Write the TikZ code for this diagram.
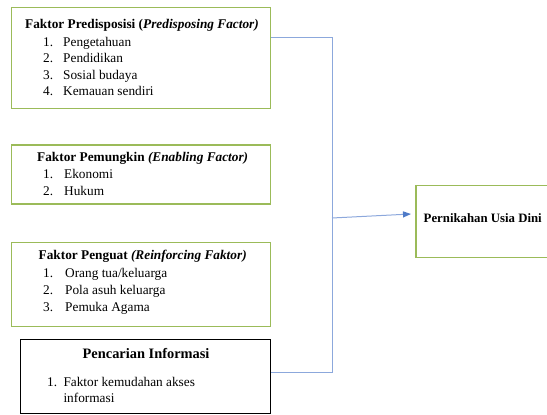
\documentclass[tikz,border=0pt]{standalone}
\usepackage{fontspec}
\setmainfont{Liberation Serif}
\usetikzlibrary{arrows.meta}
\definecolor{boxgreen}{HTML}{9BBB59}
\definecolor{linkblue}{HTML}{8CA8DC}
\definecolor{tipblue}{HTML}{4F7BC8}
\tikzset{
  gbox/.style={draw=boxgreen, line width=1.3pt, anchor=north west, inner sep=0pt, outer sep=0pt},
  kbox/.style={draw=black, line width=1.2pt, anchor=north west, inner sep=0pt, outer sep=0pt},
  txt/.style={anchor=base west, inner sep=0pt, font=\fontsize{13.3}{15}\selectfont},
  bigtxt/.style={anchor=base west, inner sep=0pt, font=\fontsize{14.4}{17}\selectfont},
  midtxt/.style={anchor=base west, inner sep=0pt, font=\fontsize{13.3}{16}\selectfont},
  conn/.style={draw=linkblue, line width=1pt},
  arr/.style={draw=linkblue, line width=1pt, -{Triangle[length=8pt,width=6pt,color=tipblue]}}
}
\begin{document}
\begin{tikzpicture}[x=1pt,y=-1pt]
\useasboundingbox (0,0) rectangle (547,415);
% boxes
\node[gbox, minimum width=259pt, minimum height=101pt] (b1) at (11.7,7.3) {};
\node[gbox, minimum width=259pt, minimum height=59pt] (b2) at (11.7,145) {};
\node[gbox, minimum width=259pt, minimum height=84pt] (b3) at (11.7,242.7) {};
\node[kbox, minimum width=250pt, minimum height=74pt] (b4) at (20.7,339.3) {};
\node[gbox, minimum width=150pt, minimum height=71.6pt] (b5) at (416,185.7) {};
% box 1 text
\node[txt] (t1) at (25,28) {\textbf{Faktor Predisposisi (}\textbf{\textit{Predisposing Factor)}}};
\node[txt] (n11) at (43,46) {1.};
\node[txt] (i11) at (63,46) {Pengetahuan};
\node[txt] (n12) at (43,62.5) {2.};
\node[txt] (i12) at (63,62.5) {Pendidikan};
\node[txt] (n13) at (43,79) {3.};
\node[txt] (i13) at (63,79) {Sosial budaya};
\node[txt] (n14) at (43,95.5) {4.};
\node[txt] (i14) at (63,95.5) {Kemauan sendiri};
% box 2 text
\node[txt] (t2) at (37,161) {\textbf{Faktor Pemungkin} \textbf{\textit{(Enabling Factor)}}};
\node[txt] (n21) at (43,178.5) {1.};
\node[txt] (i21) at (64,178.5) {Ekonomi};
\node[txt] (n22) at (43,195) {2.};
\node[txt] (i22) at (64,195) {Hukum};
% box 3 text
\node[txt] (t3) at (38.5,259.5) {\textbf{Faktor Penguat} \textbf{\textit{(Reinforcing Faktor)}}};
\node[txt] (n31) at (43,277) {1.};
\node[txt] (i31) at (65,277) {Orang tua/keluarga};
\node[txt] (n32) at (43,294) {2.};
\node[txt] (i32) at (65,294) {Pola asuh keluarga};
\node[txt] (n33) at (43,311) {3.};
\node[txt] (i33) at (65,311) {Pemuka Agama};
% box 4 text
\node[bigtxt] (t4) at (82.5,358) {\textbf{Pencarian Informasi}};
\node[midtxt] (n41) at (47,386) {1.};
\node[midtxt] (i41) at (63.3,386) {Faktor kemudahan akses};
\node[midtxt] (i42) at (63.3,402.5) {informasi};
% box 5 text
\node[txt, font=\fontsize{12.8}{15}\selectfont] (t5) at (423.5,222) {\textbf{Pernikahan Usia Dini}};
% connectors
\coordinate (j1) at (332,37.5);
\coordinate (j2) at (332,372);
\coordinate (a1) at (332,218);
\coordinate (a2) at (411,214);
\draw[conn] (b1.east |- j1) -- (j1) -- (j2) -- (b4.east |- j2);
\draw[arr] (a1) -- (a2);
\end{tikzpicture}
\end{document}
